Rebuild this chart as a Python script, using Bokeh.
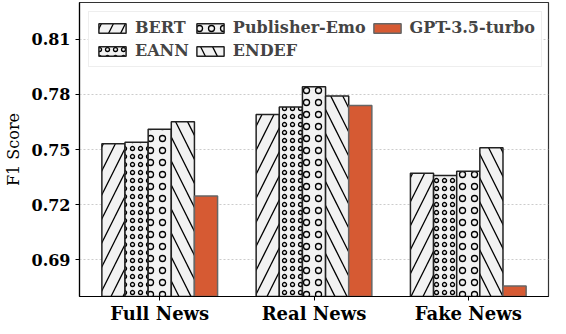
from bokeh.plotting import figure
from bokeh.models import Legend, LegendItem, FixedTicker, Range1d
from bokeh.embed import file_html
from bokeh.resources import INLINE

groups = ["Full News", "Real News", "Fake News"]
models = ["BERT", "EANN", "Publisher-Emo", "ENDEF", "GPT-3.5-turbo"]
bert = [0.7531, 0.7691, 0.7371]
eann = [0.7540, 0.7731, 0.7359]
pub_emo = [0.7610, 0.7841, 0.7381]
endef = [0.7651, 0.7791, 0.7509]
gpt = [0.7247, 0.7740, 0.6757]
y_ticks = [0.69, 0.72, 0.75, 0.78, 0.81]

series = [bert, eann, pub_emo, endef, gpt]
hatches = ["/", "o", "o", "\\", " "]
hatch_scales = [24, 8, 12, 24, 12]
offsets = [-0.3, -0.15, 0.0, 0.15, 0.3]
bar_w = 0.15

FONT = "DejaVu Serif"

p = figure(width=550, height=326, output_backend="svg", toolbar_location=None,
           x_range=Range1d(-0.52, 2.52), y_range=Range1d(0.67, 0.83),
           min_border_left=65, min_border_right=2, min_border_top=2, min_border_bottom=0)

items = []
base = [0, 1, 2]
for i, (name, vals) in enumerate(zip(models, series)):
    xs = [b + offsets[i] for b in base]
    if name == "GPT-3.5-turbo":
        r = p.vbar(x=xs, top=vals, bottom=0.6, width=bar_w,
                   fill_color="#d65a33", line_color="#666666", line_width=1.5)
    else:
        r = p.vbar(x=xs, top=vals, bottom=0.6, width=bar_w,
                   fill_color="#f2f2f2", line_color="#222222", line_width=1.5,
                   hatch_pattern=hatches[i], hatch_scale=hatch_scales[i],
                   hatch_color="black", hatch_weight=1.3)
    items.append(LegendItem(label=name, renderers=[r]))

legend = Legend(items=items, orientation="vertical", nrows=2,
                location="top_left", label_text_font=FONT, label_text_font_style="bold",
                label_text_font_size="16px", glyph_width=34, glyph_height=12,
                spacing=4, label_standoff=6, padding=6, margin=9,
                border_line_color="#dddddd", border_line_width=1,
                background_fill_alpha=0.9, label_height=18)
p.add_layout(legend)

p.xaxis.ticker = FixedTicker(ticks=base)
p.xaxis.major_label_overrides = {b: g for b, g in zip(base, groups)}
p.xaxis.major_label_text_font = FONT
p.xaxis.major_label_text_font_style = "bold"
p.xaxis.major_label_text_font_size = "18px"
p.xaxis.major_label_text_color = "black"
p.xaxis.minor_tick_line_color = None
p.xaxis.major_tick_in = 0
p.xaxis.major_tick_out = 4
p.xaxis.major_label_standoff = 2

p.yaxis.ticker = FixedTicker(ticks=y_ticks)
p.yaxis.major_label_overrides = {t: f"{t:.2f}" for t in y_ticks}
p.yaxis.major_label_text_font = FONT
p.yaxis.major_label_text_font_style = "bold"
p.yaxis.major_label_text_font_size = "16px"
p.yaxis.major_label_text_color = "black"
p.yaxis.minor_tick_line_color = None
p.yaxis.major_tick_in = 0
p.yaxis.major_tick_out = 4
p.yaxis.axis_label = "F1 Score"
p.yaxis.axis_label_text_font = FONT
p.yaxis.axis_label_text_font_style = "normal"
p.yaxis.axis_label_text_font_size = "16px"
p.yaxis.axis_label_text_color = "black"
p.yaxis.axis_label_standoff = 6

for ax in (p.xaxis, p.yaxis):
    ax.axis_line_color = "black"
    ax.axis_line_width = 1.2
    ax.major_tick_line_color = "black"

p.xgrid.grid_line_color = None
p.ygrid.grid_line_color = "#cccccc"
p.ygrid.grid_line_dash = "2 2"
p.ygrid.grid_line_width = 1

p.outline_line_color = "#333333"
p.outline_line_width = 1.2
p.background_fill_color = "white"
p.border_fill_color = "white"

open("out.html", "w").write(file_html(p, INLINE))
